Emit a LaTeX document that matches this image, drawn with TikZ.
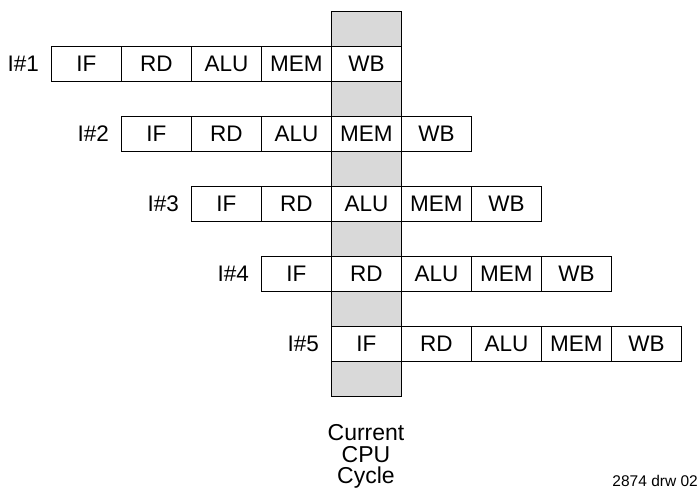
\documentclass[tikz,border=0pt]{standalone}
\usepackage{fontspec}
\setmainfont{Liberation Sans}
\definecolor{colgray}{HTML}{D9D9D9}
\begin{document}
\begin{tikzpicture}[x=1pt,y=-1pt,
  cell/.style={draw, fill=white, minimum width=70pt, minimum height=35pt, inner sep=0pt, anchor=north west, line width=0.9pt, font=\fontsize{22.5}{24}\selectfont},
  rowlabel/.style={anchor=east, inner sep=0pt, font=\fontsize{22.5}{24}\selectfont},
  column/.style={draw, fill=colgray, line width=0.9pt, minimum width=70pt, minimum height=385pt, inner sep=0pt, anchor=north west}]
\useasboundingbox (0,0) rectangle (699,490);
\node[column] (col) at (331,11) {};
\foreach \r in {1,...,5} {
  \pgfmathsetmacro{\xo}{51+70*(\r-1)}
  \pgfmathsetmacro{\yo}{46+70*(\r-1)}
  \node[rowlabel] (l\r) at (\xo-12,\yo+17.5) {I\#\r};
  \node[cell] (if\r)  at (\xo,\yo) {IF};
  \node[cell] (rd\r)  at (\xo+70,\yo) {RD};
  \node[cell] (alu\r) at (\xo+140,\yo) {ALU};
  \node[cell] (mem\r) at (\xo+210,\yo) {MEM};
  \node[cell] (wb\r)  at (\xo+280,\yo) {WB};
}
\node[align=center, anchor=north, inner sep=0pt, font=\fontsize{23}{21.8}\selectfont] (cap) at (366,424) {Current\\CPU\\Cycle};
\node[anchor=base east, inner sep=0pt, font=\fontsize{15.5}{16}\selectfont] (drw) at (698,486.5) {2874 drw 02};
\end{tikzpicture}
\end{document}
